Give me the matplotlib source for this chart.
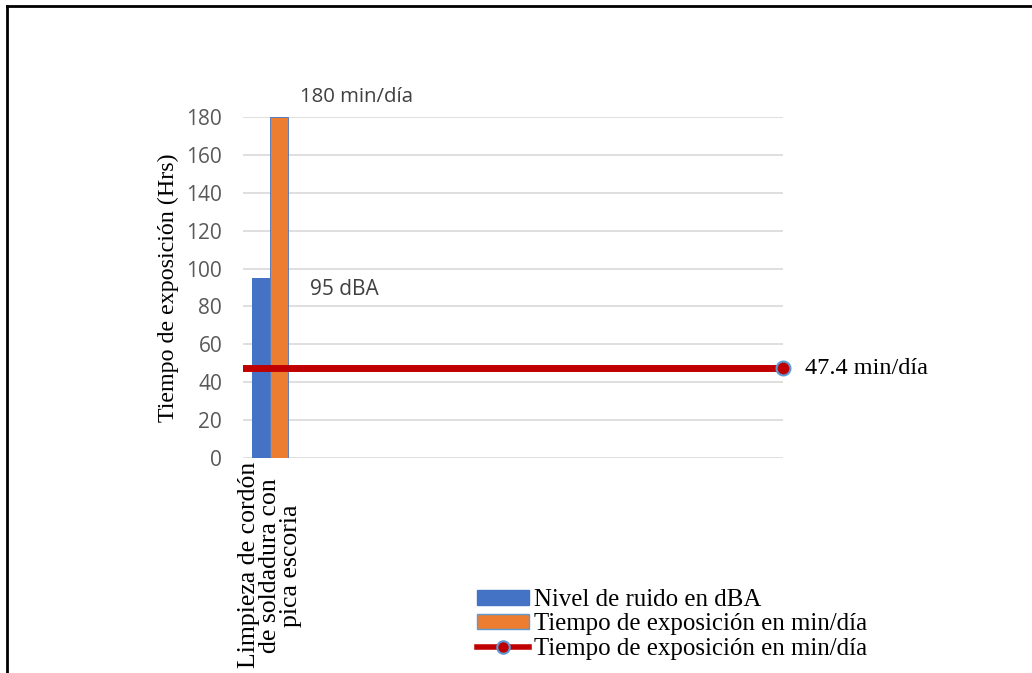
import matplotlib
matplotlib.use("Agg")
import matplotlib.pyplot as plt
from matplotlib.lines import Line2D
from matplotlib.patches import Patch

categories = ["Limpieza de cordón\nde soldadura con\npica escoria"]
nivel_ruido = [95]
tiempo_exposicion = [180]
limite_tiempo = 47.4
bar_labels = ["95 dBA", "180 min/día"]
limit_label = "47.4 min/día"
legend_labels = ["Nivel de ruido en dBA", "Tiempo de exposición en min/día",
                 "Tiempo de exposición en min/día"]
yticks = [0, 20, 40, 60, 80, 100, 120, 140, 160, 180]

BLUE = "#4472C4"
ORANGE = "#ED7D31"
RED = "#C00000"
MEDGE = "#5B9BD5"
GRID = "#D9D9D9"
TICK = "#595959"
SANS = "Open Sans"
SERIF = "Liberation Serif"

fig = plt.figure(figsize=(10.32, 6.73), dpi=100)
ax = fig.add_axes([243/1032, 1-458/673, 540/1032, 341/673])

x = list(range(len(categories)))
w = 0.3
ax.bar([i - w/2 for i in x], nivel_ruido, width=w, color=BLUE, zorder=2)
ax.bar([i + w/2 for i in x], tiempo_exposicion, width=w, color=ORANGE,
       edgecolor=BLUE, linewidth=0.6, zorder=2)

ax.axhline(limite_tiempo, color=RED, linewidth=5, zorder=3)
ax.plot([1.0], [limite_tiempo], marker="o", markersize=10, color=RED,
        markeredgecolor=MEDGE, markeredgewidth=1.5, transform=ax.get_yaxis_transform(),
        clip_on=False, zorder=4)

ax.set_xlim(-0.45, 8.55)
ax.set_ylim(0, 180)
ax.set_yticks(yticks)
ax.yaxis.grid(True, color=GRID, linewidth=1.2, zorder=0)
ax.set_axisbelow(True)
for s in ax.spines.values():
    s.set_visible(False)
ax.tick_params(axis="y", length=0, pad=15, labelsize=15, labelcolor=TICK)
for t in ax.get_yticklabels():
    t.set_fontfamily(SANS)
ax.set_xticks(x)
ax.set_xticklabels(categories, rotation=90, fontfamily=SERIF, fontsize=18.5,
                   multialignment="center", linespacing=0.92)
ax.tick_params(axis="x", length=0, pad=3)

ax.set_ylabel("Tiempo de exposición (Hrs)", fontfamily=SERIF, fontsize=17.3)
ax.yaxis.set_label_coords(-0.118, 0.5)

ax.text(0.667, 88.7, bar_labels[0], fontfamily=SANS, fontsize=15, color="#404040",
        va="center", ha="left")
ax.text(0.5, 190.6, bar_labels[1], fontfamily=SANS, fontsize=14.7, color="#404040",
        va="center", ha="left", clip_on=False)
ax.text(8.92, limite_tiempo, limit_label, fontfamily=SERIF, fontsize=17.5,
        color="#000000", va="center", ha="left", clip_on=False)

handles = [
    Patch(facecolor=BLUE, edgecolor=BLUE),
    Patch(facecolor=ORANGE, edgecolor=MEDGE, linewidth=1),
    Line2D([0], [0], color=RED, linewidth=4, marker="o", markersize=9,
           markerfacecolor=RED, markeredgecolor=MEDGE, markeredgewidth=1.5),
]
fig.legend(handles, legend_labels, loc="upper left",
           bbox_to_anchor=(477/1032, 1-589/673), frameon=False,
           prop={"family": SERIF, "size": 17.9}, handlelength=2.1,
           handleheight=0.55, handletextpad=0.2, labelspacing=0.1,
           borderaxespad=0, borderpad=0)

fig.add_artist(Line2D([7/1032, 7/1032], [0, 1-6/673], color="black", linewidth=2,
                      transform=fig.transFigure))
fig.add_artist(Line2D([7/1032, 1], [1-6/673, 1-6/673], color="black", linewidth=2,
                      transform=fig.transFigure))

fig.savefig("out.png", dpi=100)
